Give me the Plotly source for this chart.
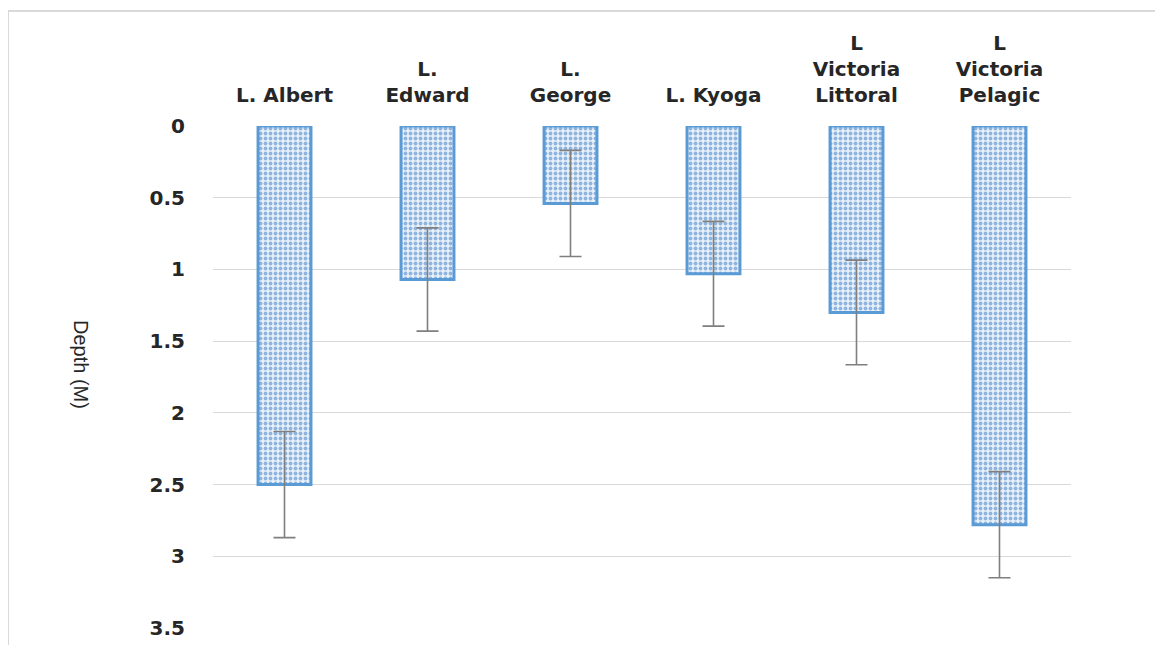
import plotly.graph_objects as go

categories = ["L. Albert", "L.<br>Edward", "L.<br>George", "L. Kyoga",
              "L<br>Victoria<br>Littoral", "L<br>Victoria<br>Pelagic"]
depth = [2.50, 1.07, 0.54, 1.03, 1.30, 2.78]
depth_err = [0.37, 0.36, 0.37, 0.365, 0.365, 0.37]
y_ticks = [0, 0.5, 1, 1.5, 2, 2.5, 3, 3.5]
y_ticklabels = ["0", "0.5", "1", "1.5", "2", "2.5", "3", "3.5"]

# page body has an 8px margin, so figure coordinates are screen minus 8
OFF = 8
W, H = 1163 - OFF, 645 - OFF
L, T = 213 - OFF, 126 - OFF
PW, PH = 858, 502
R, B = W - L - PW, H - T - PH

fig = go.Figure()
fig.add_trace(go.Bar(
    x=categories, y=depth,
    marker=dict(
        color="#e3edf8",
        line=dict(color="#5b9bd5", width=3),
        pattern=dict(shape=".", fgcolor="#8fb4de", bgcolor="#e8f0fa",
                     size=5, solidity=0.45, fillmode="replace"),
    ),
    error_y=dict(type="data", array=depth_err, visible=True,
                 color="#7f7f7f", thickness=1.6, width=11),
    width=0.37,
))

font_main = "DejaVu Sans"

def px_x(sx):
    return (sx - OFF - L) / PW

def px_y(sy):
    return 1 - (sy - OFF - T) / PH

fig.update_layout(
    width=W, height=H,
    margin=dict(l=L, r=R, t=T, b=B, autoexpand=False),
    paper_bgcolor="white", plot_bgcolor="white",
    showlegend=False,
    xaxis=dict(side="top", showgrid=False, showline=False, zeroline=False,
               ticks="", tickfont=dict(family=font_main, size=20, color="#262626", weight="bold"),
               ticklabelstandoff=19),
    yaxis=dict(range=[3.5, 0], tickvals=y_ticks, ticktext=y_ticklabels,
               showgrid=True, gridcolor="#d9d9d9", gridwidth=1,
               zeroline=False, showline=False, ticks="",
               tickfont=dict(family=font_main, size=20, color="#262626", weight="bold"),
               ticklabelstandoff=27),
    annotations=[dict(text="Depth (M)", textangle=90, xref="paper", yref="paper",
                      x=px_x(81), y=px_y(364),
                      xanchor="center", yanchor="middle", showarrow=False,
                      font=dict(family="Liberation Sans", size=20, color="#262626"))],
    shapes=[dict(type="rect", xref="paper", yref="paper",
                 x0=px_x(8), x1=px_x(1160),
                 y0=px_y(680), y1=px_y(11),
                 line=dict(color="#d9d9d9", width=2), layer="below")],
)

fig.write_html("out.html")
